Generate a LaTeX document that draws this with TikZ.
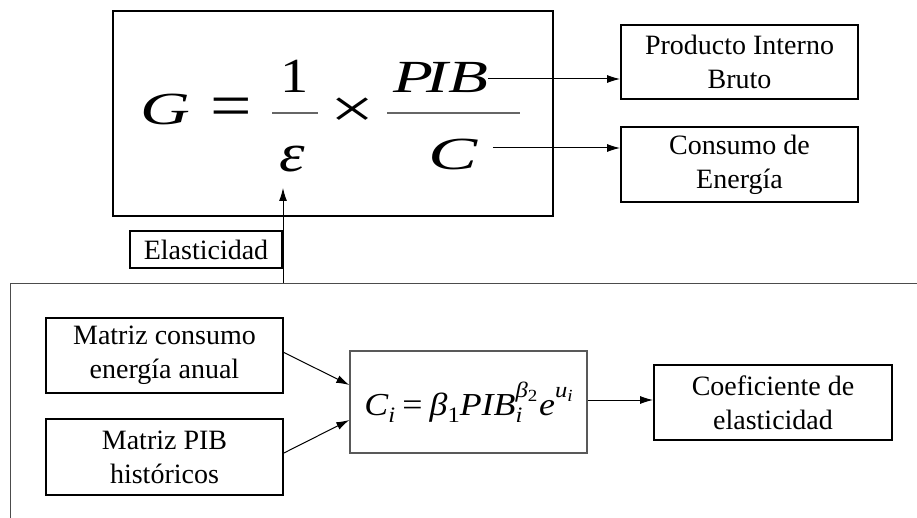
\documentclass[tikz,border=0pt]{standalone}
\usepackage{fontspec}
\setmainfont{Liberation Serif}
\usetikzlibrary{arrows.meta,calc}
% sub- and superscripts for the regression model
\newcommand\lowi[1]{\raisebox{-0.22em}{\fontsize{22}{22}\selectfont #1}}
\newcommand\lowii[1]{\raisebox{-0.18em}{\fontsize{17}{17}\selectfont #1}}
\newcommand\upi[1]{\raisebox{0.55em}{\fontsize{22}{22}\selectfont #1}}
\begin{document}
\begin{tikzpicture}[x=1pt,y=-1pt,
  box/.style={draw,line width=1.8pt,align=center,inner sep=0pt,
    font=\fontsize{28}{34}\selectfont},
  arr/.style={-{Latex[length=13pt,width=8pt]},line width=1pt},
  sym/.style={inner sep=0pt,anchor=base west,font=\fontsize{46}{46}\selectfont\itshape},
  glyph/.style={inner sep=0pt,anchor=center,font=\fontsize{46}{46}\selectfont},
  bar/.style={line width=1.2pt,black!60}]
\useasboundingbox (0,0) rectangle (917,518);

% outer frames
\draw[line width=1.3pt] (113,11) rectangle (553,216);
\draw[line width=0.9pt,black!70] (917,283) -- (10,283) -- (10,518);
\coordinate (ftop) at (283,283);
\coordinate (epsin) at (283,188);

% G = 1/epsilon x PIB/C
\node[sym] (G) at (140,125) {\scalebox{1.5}[1]{G}};
\node[glyph] (eq) at (231,113) {\scalebox{1.6}[1.4]{=}};
\node[glyph,font=\fontsize{49}{49}\selectfont,anchor=base] (one) at (295,93) {\scalebox{1.15}[1]{1}};
\draw[bar] (272,113) -- (318,113);
\node[glyph,font=\fontsize{54}{54}\selectfont\itshape,anchor=base] (eps) at (292,172) {\scalebox{1.2}[1]{ε}};
\node[glyph] (times) at (352.5,112.5) {\scalebox{1.7}[1.2]{×}};
\node[sym] (pib) at (393,93) {\scalebox{1.42}[1]{P\kern-0.1em IB}};
\draw[bar] (387,113) -- (520,113);
\node[sym,anchor=base] (cc) at (453,170) {\scalebox{1.6}[1]{C}};

% boxes
\node[box,minimum width=237pt,minimum height=74pt] (prod) at (739.5,62) {Producto Interno\\Bruto};
\node[box,minimum width=237pt,minimum height=75pt] (cons) at (739.5,164.5) {Consumo de\\Energía};
\node[box,minimum width=152pt,minimum height=37pt] (elas) at (206,249.5) {Elasticidad};
\node[box,minimum width=237pt,minimum height=75pt] (mcons) at (164.5,355.5) {Matriz consumo\\energía anual};
\node[box,minimum width=237pt,minimum height=76pt] (mpib) at (164.5,457) {Matriz PIB\\históricos};
\node[box,draw=black!65,line width=1.3pt,minimum width=237pt,minimum height=102pt,
  font=\fontsize{32}{32}\selectfont] (model) at (468.5,402)
  {\scalebox{1.12}[1]{\itshape C\lowi{i}\hspace{0.2em}\upshape=\hspace{0.2em}\itshape β\lowi{\upshape 1}PIB\rlap{\lowi{i}}\upi{β\lowii{\upshape 2}}\hspace{0.05em}e\upi{u\lowii{i}}}};
\node[box,minimum width=238pt,minimum height=75pt] (coef) at (773,402.5) {Coeficiente de\\elasticidad};

% connectors
\draw[arr] ([yshift=14pt]pib.base east) coordinate (pa) -- (pa -| prod.west);
\draw[arr] ([xshift=15pt,yshift=22pt]cc.base east) coordinate (ca) -- (ca -| cons.west);
\draw[arr] (ftop) -- (epsin);
\draw[arr] ([yshift=3pt]mcons.east) -- ([yshift=17pt]model.west);
\draw[arr] ([yshift=4pt]mpib.east) -- ([yshift=-18pt]model.west);
\draw[arr] ([yshift=2pt]model.east) coordinate (ma) -- (ma -| coef.west);
\end{tikzpicture}
\end{document}
